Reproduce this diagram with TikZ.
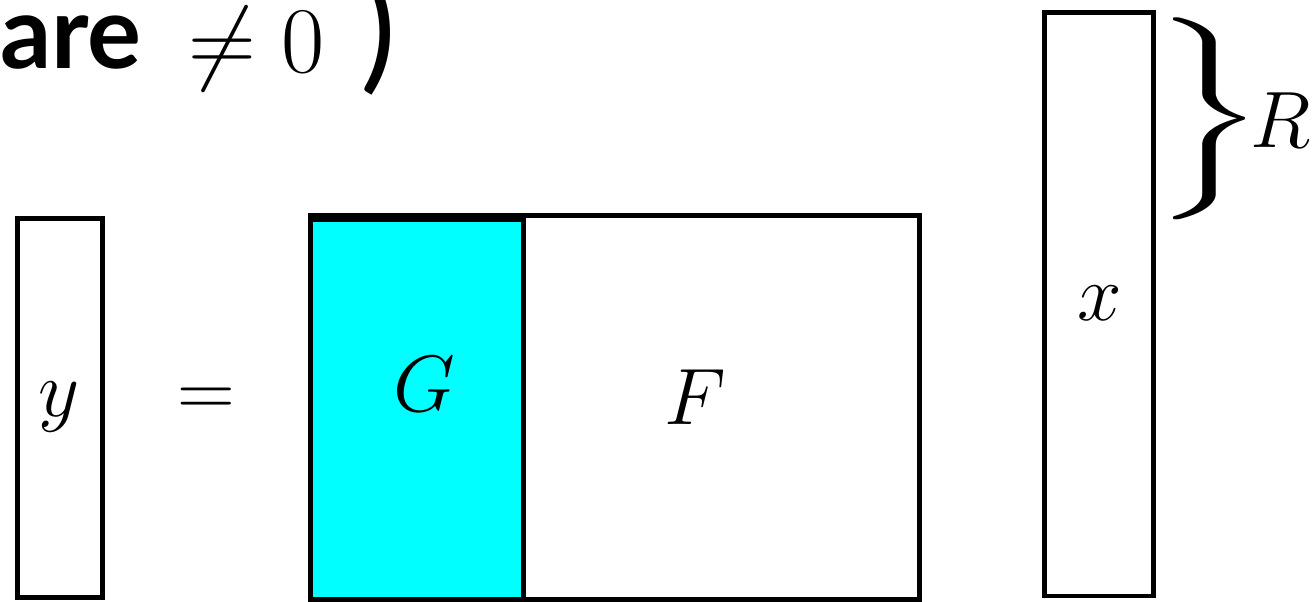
\RequirePackage{fix-cm}
\documentclass[tikz,border=0pt]{standalone}
\usepackage{amsmath,amssymb}
\usepackage{graphicx}
\usepackage{fontspec}
\newfontfamily\slidefont{Lato}
\usetikzlibrary{positioning}
\definecolor{gcyan}{RGB}{0,255,255}

\begin{document}
\begin{tikzpicture}[x=1pt, y=-1pt, every node/.style={inner sep=0pt, font=\fontsize{80}{96}\selectfont},
	vecbox/.style={line width=4.8pt}, big/.style={font=\fontsize{94}{110}\selectfont}, slide/.style={font=\fontsize{101}{120}\selectfont\slidefont\bfseries}]
	\useasboundingbox (0,0) rectangle (1314,602);
	% top line of the slide text
	\node[slide, anchor=base west] (are) at (0,69) {are};
	\node[big, anchor=base west] (neq) at (188,73) {$\neq 0$};
	\node[font=\fontsize{135}{150}\selectfont\slidefont, anchor=base west] (paren) at (360,76) {)};
	% y = [G F] x
	\draw[vecbox] (17.5,218.5) rectangle (102.5,597.5);
	\node[anchor=base] (ylab) at (59,416) {$y$};
	\node[anchor=base] (eq) at (206,416) {$=$};
	\fill[gcyan] (310.5,219.5) rectangle (523.5,599.5);
	\draw[vecbox] (310.5,215.5) rectangle (919.5,599.5);
	\draw[vecbox] (310.5,219.5) rectangle (523.5,599.5);
	\node[anchor=base] (glab) at (424,411) {$G$};
	\node[anchor=base] (flab) at (695,424) {$F$};
	\draw[vecbox] (1044.5,12.5) rectangle (1153.5,596);
	\node[anchor=base] (xlab) at (1100,320) {$x$};
	\node[anchor=west] (brace) at (1153,119) {\resizebox*{112pt}{202pt}{\fontsize{10}{12}\selectfont$\Bigg\}$}};
	\node[anchor=base west] (rlab) at (1250,147) {$R$};
\end{tikzpicture}
\end{document}
